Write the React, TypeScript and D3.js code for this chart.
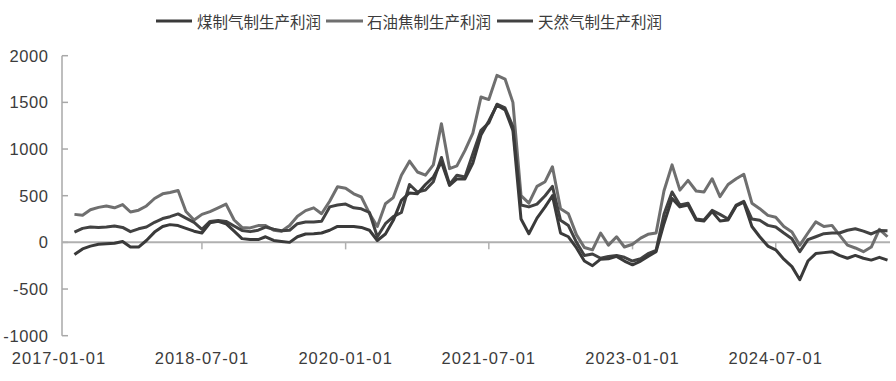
import React from "react";
import * as d3 from "d3";

const months = [
  "2017-03","2017-04","2017-05","2017-06","2017-07","2017-08","2017-09","2017-10","2017-11","2017-12",
  "2018-01","2018-02","2018-03","2018-04","2018-05","2018-06","2018-07","2018-08","2018-09","2018-10",
  "2018-11","2018-12","2019-01","2019-02","2019-03","2019-04","2019-05","2019-06","2019-07","2019-08",
  "2019-09","2019-10","2019-11","2019-12","2020-01","2020-02","2020-03","2020-04","2020-05","2020-06",
  "2020-07","2020-08","2020-09","2020-10","2020-11","2020-12","2021-01","2021-02","2021-03","2021-04",
  "2021-05","2021-06","2021-07","2021-08","2021-09","2021-10","2021-11","2021-12","2022-01","2022-02",
  "2022-03","2022-04","2022-05","2022-06","2022-07","2022-08","2022-09","2022-10","2022-11","2022-12",
  "2023-01","2023-02","2023-03","2023-04","2023-05","2023-06","2023-07","2023-08","2023-09","2023-10",
  "2023-11","2023-12","2024-01","2024-02","2024-03","2024-04","2024-05","2024-06","2024-07","2024-08",
  "2024-09","2024-10","2024-11","2024-12","2025-01","2025-02","2025-03","2025-04","2025-05","2025-06",
  "2025-07","2025-08","2025-09"
];

// 煤制气制生产利润
const coalGasProfit = [
  -130, -70, -40, -20, -15, -10, 10, -50, -50, 20,
  110, 170, 190, 180, 150, 120, 100, 210, 225, 200,
  120, 40, 30, 30, 60, 21, 10, 0, 60, 90,
  93, 100, 130, 171, 171, 171, 160, 130, 20, 90,
  236, 450, 530, 520, 620, 700, 860, 610, 680, 680,
  850, 1150, 1300, 1470, 1420, 1200, 250, 93, 260, 380,
  500, 100, 60, -60, -200, -250, -180, -175, -150, -200,
  -240, -200, -150, -100, 200, 470, 380, 400, 240, 230,
  330, 230, 240, 390, 430, 170, 60, -40, -80, -180,
  -260, -400, -200, -120, -110, -100, -140, -170, -140, -170,
  -190, -160, -190
];

// 石油焦制生产利润
const petCokeProfit = [
  300, 290, 350, 375, 390, 370, 405, 325, 345, 390,
  470, 520, 535, 555, 330, 240, 300, 330, 370, 410,
  240, 160, 155, 180, 180, 130, 120, 180, 280, 340,
  370, 307, 440, 595, 580, 520, 486, 310, 170, 414,
  480, 720, 870, 754, 720, 830, 1272, 790, 820, 986,
  1170, 1557, 1530, 1789, 1750, 1500, 500, 420, 600, 650,
  810, 360, 307, 80, -55, -80, 100, -30, 60, -50,
  -20, 45, 86, 100, 550, 830, 560, 664, 550, 540,
  682, 490, 620, 682, 730, 420, 361, 289, 270, 170,
  110, -30, 100, 220, 170, 182, 80, -30, -60, -100,
  -50, 140, 60
];

// 天然气制生产利润
const natGasProfit = [
  111, 150, 165, 160, 165, 175, 160, 115, 145, 165,
  215, 255, 275, 305, 260, 215, 140, 225, 235, 225,
  175, 128, 115, 130, 164, 140, 125, 130, 200, 218,
  218, 225, 380, 400, 410, 370, 360, 320, 60, 200,
  275, 320, 620, 540, 560, 650, 910, 620, 720, 700,
  950, 1200, 1280, 1480, 1440, 1240, 400, 380, 410, 500,
  600, 236, 180, 0, -140, -125, -170, -150, -140, -160,
  -200, -175, -121, -86, 300, 540, 400, 420, 250, 240,
  343, 300, 250, 400, 440, 250, 236, 182, 164, 100,
  39, -100, 30, 60, 93, 100, 100, 130, 146, 120,
  90, 128, 125
];

const yTicks = [-1000, -500, 0, 500, 1000, 1500, 2000];
const xTickLabels = ["2017-01-01", "2018-07-01", "2020-01-01", "2021-07-01", "2023-01-01", "2024-07-01"];
const seriesNames = ["煤制气制生产利润", "石油焦制生产利润", "天然气制生产利润"];
const seriesColors = ["#3a3a3a", "#6f6f6f", "#424242"];

export default function App() {
  const W = 896;
  const H = 381;
  const parseMonth = d3.timeParse("%Y-%m");
  const parseDay = d3.timeParse("%Y-%m-%d");
  const dates = months.map((m) => parseMonth(m) as Date);

  const x = d3
    .scaleTime()
    .domain([parseDay("2017-01-01") as Date, parseDay("2025-09-01") as Date])
    .range([59, 887.5]);
  const y = d3.scaleLinear().domain([-1000, 2000]).range([335.7, 55.7]);

  const allSeries = [coalGasProfit, petCokeProfit, natGasProfit];
  const line = d3
    .line<number>()
    .x((_, i) => x(dates[i]))
    .y((d) => y(d));

  const font = "'Liberation Sans', 'Noto Sans CJK SC', sans-serif";
  const textColor = "#3c3c3c";
  const axisX = 62;
  const legendItems = [
    { x1: 156, x2: 192, tx: 197 },
    { x1: 326, x2: 363, tx: 367 },
    { x1: 497, x2: 533, tx: 538 },
  ];
  const drawOrder = [1, 2, 0];

  return (
    <svg
      width={W}
      height={H}
      style={{ position: "absolute", left: 0, top: 0, background: "#fff" }}
      fontFamily={font}
    >
      <rect x={0} y={0} width={W} height={H} fill="#fff" />
      {/* legend */}
      {legendItems.map((it, i) => (
        <g key={i}>
          <line x1={it.x1} x2={it.x2} y1={21} y2={21} stroke={seriesColors[i]} strokeWidth={3} />
          <text
            x={it.tx}
            y={21}
            dominantBaseline="central"
            fontSize={15.5}
            fill={textColor}
            fontFamily="'Noto Sans CJK SC', sans-serif"
          >
            {seriesNames[i]}
          </text>
        </g>
      ))}

      {/* y axis */}
      <line x1={axisX} x2={axisX} y1={y(2000)} y2={y(-1000)} stroke="#a8a8a8" strokeWidth={1.5} />
      {yTicks.map((t) => (
        <g key={t}>
          <line x1={axisX} x2={axisX + 6} y1={y(t)} y2={y(t)} stroke="#a8a8a8" strokeWidth={1.5} />
          <text
            x={48.5}
            y={y(t)}
            textAnchor="end"
            dominantBaseline="central"
            fontSize={16.5}
            letterSpacing={0.6}
            fill={textColor}
          >
            {t}
          </text>
        </g>
      ))}

      {/* zero line / x axis */}
      <line x1={axisX} x2={890} y1={y(0)} y2={y(0)} stroke="#b0b0b0" strokeWidth={2} />
      {xTickLabels.map((lbl, i) => {
        const xp = x(parseDay(lbl) as Date);
        return (
          <g key={lbl}>
            {i > 0 && (
              <line x1={xp} x2={xp} y1={y(0)} y2={y(0) + 7} stroke="#b0b0b0" strokeWidth={1.5} />
            )}
            <text
              x={xp}
              y={357.5}
              textAnchor="middle"
              dominantBaseline="central"
              fontSize={16.5}
              letterSpacing={1}
              fill={textColor}
            >
              {lbl}
            </text>
          </g>
        );
      })}

      {/* series */}
      {drawOrder.map((si) => (
        <path
          key={si}
          d={line(allSeries[si]) || ""}
          fill="none"
          stroke={seriesColors[si]}
          strokeWidth={3}
          strokeLinejoin="round"
        />
      ))}
    </svg>
  );
}
